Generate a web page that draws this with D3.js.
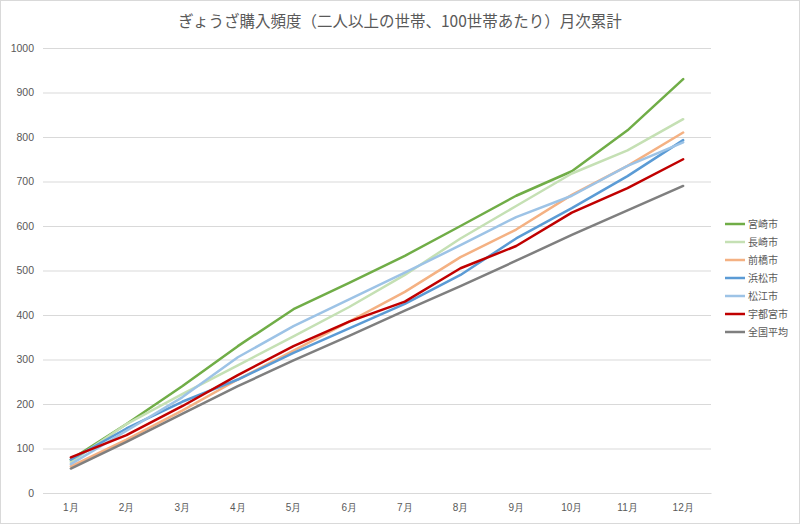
<!DOCTYPE html>
<html><head><meta charset="utf-8">
<script src="https://cdn.jsdelivr.net/npm/d3@7"></script>
<style>body{margin:0;background:#fff}svg{display:block;font-family:"Noto Sans CJK JP","Noto Sans",sans-serif}</style>
</head><body><svg id="c" width="800" height="524"></svg>
<script>
const months = ["1月","2月","3月","4月","5月","6月","7月","8月","9月","10月","11月","12月"];
const yTicks = [0,100,200,300,400,500,600,700,800,900,1000];
const seriesNames = ["宮崎市","長崎市","前橋市","浜松市","松江市","宇都宮市","全国平均"];
const colors = ["#70ad47","#c5e0b4","#f4b183","#5b9bd5","#9dc3e6","#c00000","#7f7f7f"];
const miyazaki = [75,155,240,330,413,472,533,600,668,723,815,930];
const nagasaki = [70,155,222,287,352,418,490,572,645,718,770,840];
const maebashi = [60,120,185,255,320,385,452,530,592,670,735,810];
const hamamatsu = [75,145,205,255,315,370,425,490,572,640,712,793];
const matsue = [65,140,215,305,375,435,495,557,620,668,735,788];
const utsunomiya = [80,130,195,265,330,385,430,505,555,630,685,750];
const zenkoku = [55,115,178,240,298,353,410,465,522,580,635,690];
const seriesData = [miyazaki,nagasaki,maebashi,hamamatsu,matsue,utsunomiya,zenkoku];

const svg = d3.select("#c");
svg.append("rect").attr("x",0.5).attr("y",0.5).attr("width",799).attr("height",523)
  .attr("fill","#fff").attr("stroke","#d9d9d9");

const x = d3.scaleBand().domain(months).range([43,711]);
const y = d3.scaleLinear().domain([0,1000]).range([493,48]);

svg.append("text").attr("x",400).attr("y",27).attr("text-anchor","middle")
  .attr("font-size",15.5).attr("fill","#595959")
  .text("ぎょうざ購入頻度（二人以上の世帯、100世帯あたり）月次累計");

const gy = svg.append("g").attr("transform","translate(43,0)")
  .call(d3.axisLeft(y).tickValues(yTicks).tickFormat(d3.format("d")).tickSize(-668).tickPadding(9));
gy.select(".domain").remove();
gy.selectAll(".tick line").attr("stroke","#d9d9d9");
gy.selectAll(".tick text").attr("font-size",10.5).attr("fill","#595959");

const gx = svg.append("g").attr("transform","translate(0,493)")
  .call(d3.axisBottom(x).tickSize(0).tickPadding(11));
gx.select(".domain").attr("stroke","#d9d9d9");
gx.selectAll(".tick text").attr("font-size",10).attr("fill","#595959");

const line = d3.line().x((d,i)=>x(months[i])+x.bandwidth()/2).y(d=>y(d));
seriesData.forEach((s,k)=>{
  svg.append("path").datum(s).attr("d",line).attr("fill","none")
    .attr("stroke",colors[k]).attr("stroke-width",2.5).attr("stroke-linejoin","round").attr("stroke-linecap","round");
});

const lg = svg.append("g");
seriesNames.forEach((n,k)=>{
  const yy = 224 + k*18;
  lg.append("line").attr("x1",725).attr("x2",745).attr("y1",yy).attr("y2",yy)
    .attr("stroke",colors[k]).attr("stroke-width",2.5);
  lg.append("text").attr("x",748).attr("y",yy+3.5).attr("font-size",10).attr("fill","#595959").text(n);
});
</script></body></html>
